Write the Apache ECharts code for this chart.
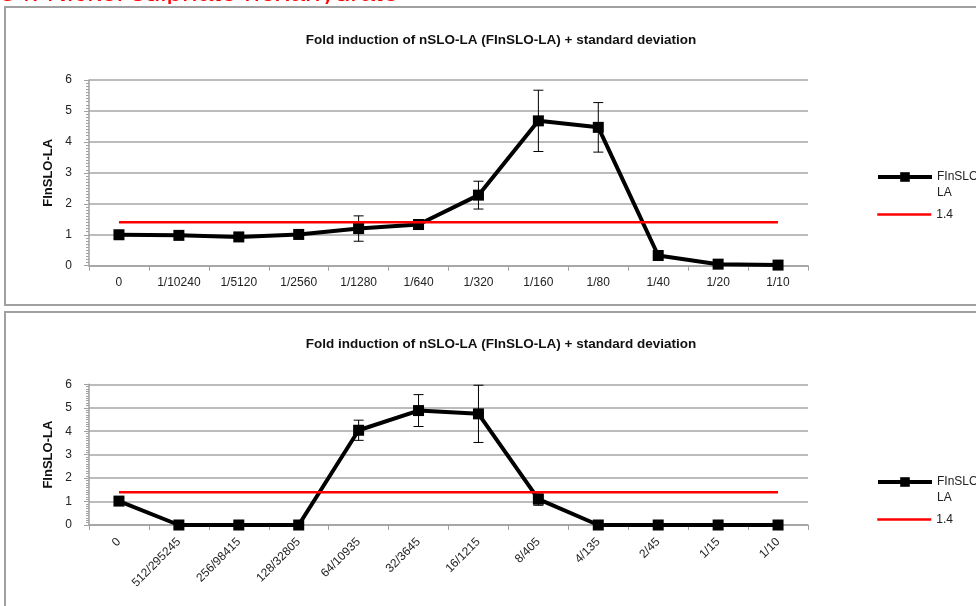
<!DOCTYPE html>
<html><head><meta charset="utf-8">
<script src="https://cdn.jsdelivr.net/npm/echarts@6/dist/echarts.min.js"></script>
<style>html,body{margin:0;padding:0;background:#fff}#c{width:976px;height:606px}</style>
</head><body><div id="c"></div>
<script>
const heading = '34. Nickel sulphate hexahydrate';
const chartTitle = 'Fold induction of nSLO-LA (FInSLO-LA) + standard deviation';
const yName = 'FInSLO-LA';
const seriesName = 'FInSLO-LA';
const thresholdName = '1.4';
const threshold = 1.4;

const catsTop = ['0','1/10240','1/5120','1/2560','1/1280','1/640','1/320','1/160','1/80','1/40','1/20','1/10'];
const valsTop = [1.0, 0.98, 0.93, 1.01, 1.2, 1.33, 2.28, 4.68, 4.47, 0.33, 0.05, 0.02];
const sdTop   = [0.04, 0.05, 0.05, 0.1, 0.41, 0.16, 0.45, 0.99, 0.8, 0.05, 0.03, 0.03];

const catsBot = ['0','512/295245','256/98415','128/32805','64/10935','32/3645','16/1215','8/405','4/135','2/45','1/15','1/10'];
const valsBot = [1.02, 0, 0, 0, 4.04, 4.88, 4.74, 1.1, 0, 0, 0, 0];
const sdBot   = [0.08, 0, 0, 0, 0.43, 0.68, 1.22, 0.26, 0, 0, 0, 0];

const FONT = '"Liberation Sans", Arial, sans-serif';
const chart = echarts.init(document.getElementById('c'), null, {renderer:'canvas'});

function errRender(params, api){
  const i = api.value(0), v = api.value(1), s = api.value(2);
  if (!s) return;
  const hi = api.coord([i, v + s]);
  const lo = api.coord([i, v - s]);
  const w = 5;
  const st = {stroke:'#000', lineWidth:1};
  return {type:'group', children:[
    {type:'line', shape:{x1:hi[0], y1:hi[1], x2:lo[0], y2:lo[1]}, style:st},
    {type:'line', shape:{x1:hi[0]-w, y1:hi[1], x2:hi[0]+w, y2:hi[1]}, style:st},
    {type:'line', shape:{x1:lo[0]-w, y1:lo[1], x2:lo[0]+w, y2:lo[1]}, style:st}
  ]};
}

function xAxis(idx, cats, rotate){
  return {gridIndex:idx, type:'category', data:cats, boundaryGap:true,
    axisLine:{lineStyle:{color:'#a0a0a0', width:1.5}},
    axisTick:{show:true, length:5, lineStyle:{color:'#a0a0a0'}},
    axisLabel:{color:'#222', fontFamily:FONT, fontSize:12, rotate:rotate, margin:rotate?15:11, interval:0},
    splitLine:{show:false}};
}
function yAxis(idx){
  return {gridIndex:idx, type:'value', min:0, max:6, interval:1,
    name:yName, nameLocation:'middle', nameGap:34, nameRotate:90,
    nameTextStyle:{fontFamily:FONT, fontWeight:'bold', fontSize:13, color:'#111'},
    axisLine:{show:true, lineStyle:{color:'#a0a0a0', width:1.5}},
    axisTick:{show:true, length:5, lineStyle:{color:'#a0a0a0'}},
    minorTick:{show:true, splitNumber:10, length:3, lineStyle:{color:'#a0a0a0'}},
    axisLabel:{color:'#222', fontFamily:FONT, fontSize:12, margin:17},
    splitLine:{show:true, lineStyle:{color:'#a6a6a6', width:1.5}}};
}
function errData(vals, sds){ return vals.map((v,i)=>[i, v, sds[i]]); }

const mainLineStyle = {color:'#000', width:4};
const legendText = {fontFamily:FONT, fontSize:12, color:'#222'};
function legendMain(top){
  return {left:876, top:top, padding:0, itemWidth:54, itemHeight:12,
    lineStyle:{width:4},
    data:[seriesName], formatter:()=> '\nFInSLO-\nLA',
    textStyle:Object.assign({lineHeight:16}, legendText)};
}
function legendThr(top){
  return {left:876, top:top, padding:0, itemWidth:54, itemHeight:12,
    lineStyle:{width:2.5},
    data:[{name:thresholdName, itemStyle:{opacity:0}}], textStyle:legendText};
}

chart.setOption({
  animation:false,
  graphic:[
    {type:'text', left:0, top:-20.5, z:-3, style:{text:heading, fill:'#ff0000', font:'28px ' + FONT}},
    {type:'rect', shape:{x:0, y:4, width:976, height:4}, style:{fill:'#fff'}, z:-2, silent:true},
    {type:'rect', shape:{x:5, y:7, width:990, height:298}, style:{fill:'#fff', stroke:'#a0a0a0', lineWidth:2}, z:-1, silent:true},
    {type:'rect', shape:{x:5, y:312, width:990, height:310}, style:{fill:'#fff', stroke:'#a0a0a0', lineWidth:2}, z:-1, silent:true}
  ],
  title:[
    {text:chartTitle, left:496, top:28, textAlign:'center', textStyle:{fontFamily:FONT, fontWeight:'bold', fontSize:13.5, color:'#111'}},
    {text:chartTitle, left:496, top:332, textAlign:'center', textStyle:{fontFamily:FONT, fontWeight:'bold', fontSize:13.5, color:'#111'}}
  ],
  legend:[legendMain(153), legendThr(208.5), legendMain(458), legendThr(513.5)],
  grid:[
    {left:89, width:719, top:80, height:185.7, containLabel:false},
    {left:89, width:719, top:384.3, height:140.7, containLabel:false}
  ],
  xAxis:[xAxis(0, catsTop, 0), xAxis(1, catsBot, 45)],
  yAxis:[yAxis(0), yAxis(1)],
  series:[
    {type:'custom', xAxisIndex:0, yAxisIndex:0, renderItem:errRender, data:errData(valsTop, sdTop), z:3, silent:true},
    {name:seriesName, type:'line', xAxisIndex:0, yAxisIndex:0, data:valsTop, symbol:'rect', symbolSize:11,
      lineStyle:mainLineStyle, itemStyle:{color:'#000'}, z:4},
    {name:thresholdName, type:'line', xAxisIndex:0, yAxisIndex:0, data:catsTop.map(()=>threshold), symbol:'none',
      lineStyle:{color:'#ff0000', width:2.5}, itemStyle:{color:'#ff0000'}, z:5},
    {type:'custom', xAxisIndex:1, yAxisIndex:1, renderItem:errRender, data:errData(valsBot, sdBot), z:3, silent:true},
    {name:seriesName, type:'line', xAxisIndex:1, yAxisIndex:1, data:valsBot, symbol:'rect', symbolSize:11,
      lineStyle:mainLineStyle, itemStyle:{color:'#000'}, z:4},
    {name:thresholdName, type:'line', xAxisIndex:1, yAxisIndex:1, data:catsBot.map(()=>threshold), symbol:'none',
      lineStyle:{color:'#ff0000', width:2.5}, itemStyle:{color:'#ff0000'}, z:5}
  ]
});
</script></body></html>
